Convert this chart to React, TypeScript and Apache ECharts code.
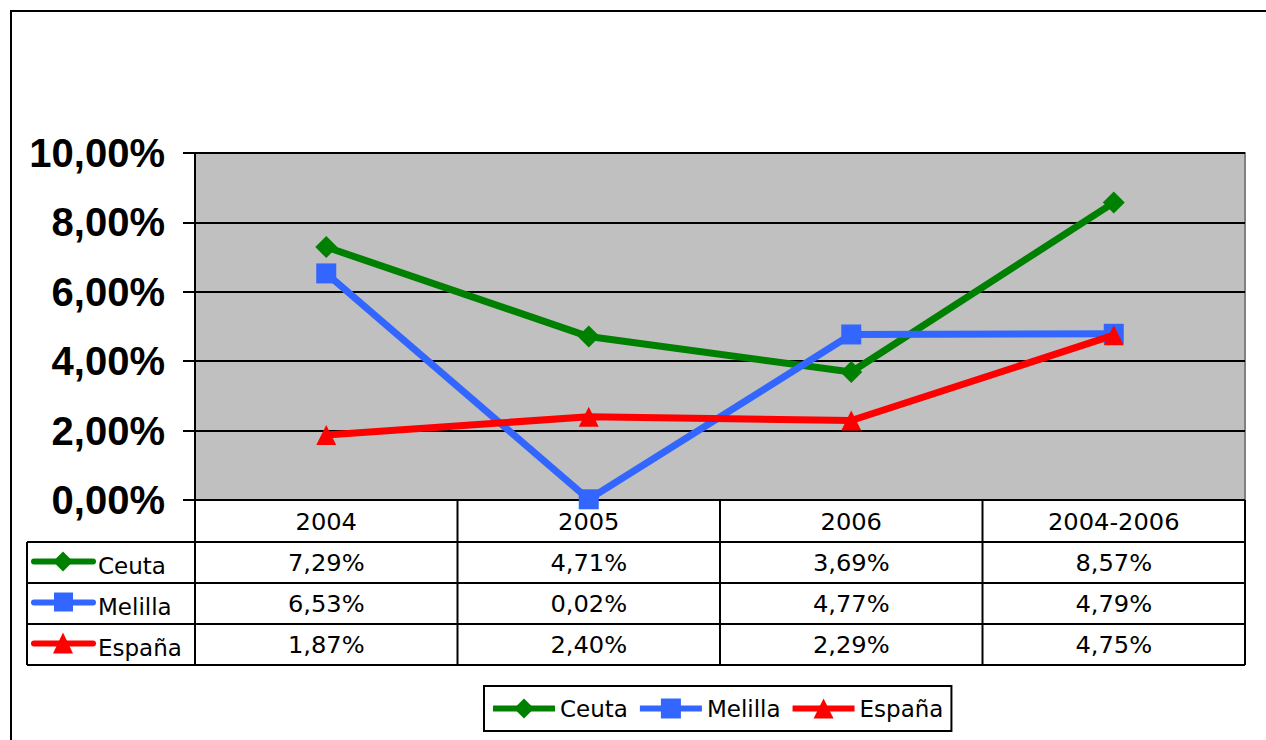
import React, { useEffect, useRef } from "react";
import * as echarts from "echarts";

const categories = ["2004", "2005", "2006", "2004-2006"];
const seriesNames = ["Ceuta", "Melilla", "España"];
const ceuta = [7.29, 4.71, 3.69, 8.57];
const melilla = [6.53, 0.02, 4.77, 4.79];
const espana = [1.87, 2.4, 2.29, 4.75];
const yTicks = [0, 2, 4, 6, 8, 10];

const colors = ["#008000", "#3366FF", "#FF0000"];
const symbols = ["diamond", "rect", "triangle"];

const fmt = (v: number) => v.toFixed(2).replace(".", ",") + "%";

export default function App() {
  const ref = useRef<HTMLDivElement>(null);
  useEffect(() => {
    if (!ref.current) return;
    const chart = echarts.init(ref.current, null, { renderer: "svg" });
    const W = 1266;
    const gridLeft = 195;
    const gridRight = 1245;
    const gridTop = 153;
    const gridBottom = 500;
    const colW = (gridRight - gridLeft) / categories.length;
    const rowH = 41;
    const tableLeft = 27;
    const headerBottom = 542;
    const data = [ceuta, melilla, espana];
    const font = "DejaVu Sans";
    const fs = 23;

    const g: any[] = [];
    g.push({
      type: "polyline",
      shape: { points: [[11, 740], [11, 11], [W, 11]] },
      style: { stroke: "#000", lineWidth: 2, fill: null },
      silent: true,
    });
    const tableBottom = headerBottom + rowH * 3;
    g.push({ type: "line", shape: { x1: gridLeft, y1: gridBottom, x2: gridRight, y2: gridBottom }, style: { stroke: "#000", lineWidth: 2 } });
    for (let r = 0; r <= 3; r++) {
      const y = headerBottom + r * rowH;
      g.push({ type: "line", shape: { x1: tableLeft, y1: y, x2: gridRight, y2: y }, style: { stroke: "#000", lineWidth: 2 } });
    }
    g.push({ type: "line", shape: { x1: tableLeft, y1: headerBottom, x2: tableLeft, y2: tableBottom }, style: { stroke: "#000", lineWidth: 2 } });
    for (let c = 0; c <= categories.length; c++) {
      const x = gridLeft + c * colW;
      g.push({ type: "line", shape: { x1: x, y1: gridBottom, x2: x, y2: tableBottom }, style: { stroke: "#000", lineWidth: 2 } });
    }
    categories.forEach((cat, c) => {
      g.push({
        type: "text",
        x: gridLeft + (c + 0.5) * colW,
        y: (gridBottom + headerBottom) / 2 + 1,
        scaleX: 1.05,
        style: { text: cat, font: `${fs}px "${font}"`, fill: "#000", align: "center", verticalAlign: "middle" },
      });
    });
    seriesNames.forEach((name, r) => {
      const cy = headerBottom + (r + 0.5) * rowH + 1;
      const color = colors[r];
      g.push({ type: "line", shape: { x1: 34, y1: cy - 2, x2: 93, y2: cy - 2 }, style: { stroke: color, lineWidth: 6, lineCap: "round" } });
      if (r === 0) {
        g.push({ type: "polygon", shape: { points: [[63, cy - 12], [73, cy - 2], [63, cy + 8], [53, cy - 2]] }, style: { fill: color } });
      } else if (r === 1) {
        g.push({ type: "rect", shape: { x: 54, y: cy - 12, width: 19, height: 19 }, style: { fill: color } });
      } else {
        g.push({ type: "polygon", shape: { points: [[63, cy - 13], [73, cy + 8], [53, cy + 8]] }, style: { fill: color } });
      }
      g.push({
        type: "text",
        x: 98,
        y: cy + 2,
        style: { text: name, font: `${fs}px "${font}"`, fill: "#000", align: "left", verticalAlign: "middle" },
      });
      data[r].forEach((v, c) => {
        g.push({
          type: "text",
          x: gridLeft + (c + 0.5) * colW,
          y: cy,
          scaleX: 1.05,
          style: { text: fmt(v), font: `${fs}px "${font}"`, fill: "#000", align: "center", verticalAlign: "middle" },
        });
      });
    });

    chart.setOption({
      animation: false,
      backgroundColor: "#fff",
      grid: {
        left: gridLeft,
        right: W - gridRight,
        top: gridTop,
        bottom: 740 - gridBottom,
        show: true,
        backgroundColor: "#C0C0C0",
        borderColor: "#808080",
        borderWidth: 2,
      },
      legend: {
        left: 484,
        top: 686,
        data: seriesNames,
        borderColor: "#000",
        borderWidth: 2,
        padding: [11, 8, 11, 6],
        itemGap: 9,
        itemWidth: 62,
        itemHeight: 25,
        lineStyle: { width: 6 },
        textStyle: { fontFamily: font, fontSize: 23, color: "#000" },
      },
      xAxis: {
        type: "category",
        data: categories,
        boundaryGap: true,
        axisLine: { show: false },
        axisTick: { show: false },
        axisLabel: { show: false },
      },
      yAxis: {
        type: "value",
        min: yTicks[0],
        max: yTicks[yTicks.length - 1],
        interval: 2,
        axisLine: { show: true, lineStyle: { color: "#000", width: 2 } },
        axisTick: { show: true, length: 12, lineStyle: { color: "#000", width: 2 } },
        splitLine: { show: true, lineStyle: { color: "#000", width: 2 } },
        axisLabel: {
          formatter: (v: number) => fmt(v),
          fontFamily: "Liberation Sans",
          fontWeight: "bold",
          fontSize: 40,
          color: "#000",
          margin: 30,
        },
      },
      series: seriesNames.map((name, i) => ({
        name,
        type: "line",
        data: data[i],
        color: colors[i],
        symbol: symbols[i],
        symbolSize: i === 0 ? 22 : 20,
        lineStyle: { width: 7, color: colors[i] },
        itemStyle: { color: colors[i] },
        clip: false,
        z: 3 + i,
      })),
      graphic: g,
    });
    return () => chart.dispose();
  }, []);
  return <div ref={ref} style={{ width: 1266, height: 740, position: "absolute", left: 0, top: 0 }} />;
}
